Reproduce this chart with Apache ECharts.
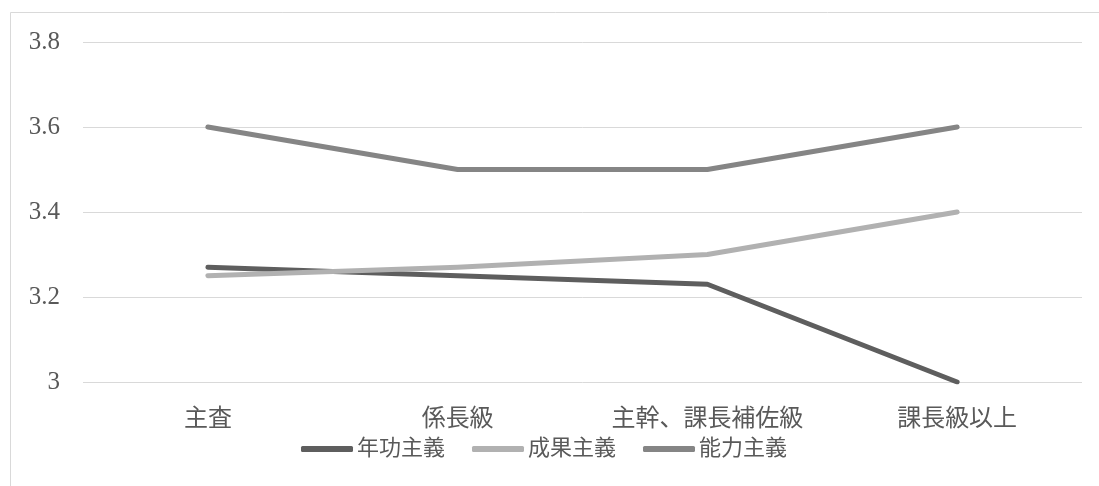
<!DOCTYPE html>
<html>
<head>
<meta charset="utf-8">
<script src="https://cdn.jsdelivr.net/npm/echarts@6/dist/echarts.min.js"></script>
<style>
html,body{margin:0;padding:0;background:#fff;}
#chart{width:1099px;height:486px;}
</style>
</head>
<body>
<div id="chart"></div>
<script>
const categories = ['主査', '係長級', '主幹、課長補佐級', '課長級以上'];
const seriesNames = ['年功主義', '成果主義', '能力主義'];
const nenkou = [3.27, 3.25, 3.23, 3.0];
const seika = [3.25, 3.27, 3.30, 3.40];
const nouryoku = [3.6, 3.5, 3.5, 3.6];
const yTicks = { min: 3, max: 3.8, interval: 0.2 };

const colors = ['#5e5e5e', '#b1b1b1', '#858585'];
const FONT = "'Liberation Serif', 'Noto Sans CJK JP', serif";
const TXT = '#595959';

const chart = echarts.init(document.getElementById('chart'), null, { renderer: 'canvas' });
const mk = (name, data, color) => ({
  name, type: 'line', data, symbol: 'none', smooth: false,
  lineStyle: { color, width: 5, cap: 'round', join: 'round' },
  itemStyle: { color },
  emphasis: { disabled: true }
});
chart.setOption({
  animation: false,
  backgroundColor: '#fff',
  graphic: [{
    type: 'rect', silent: true, z: -1,
    shape: { x: 10.5, y: 12.5, width: 1200, height: 600 },
    style: { fill: 'none', stroke: '#d9d9d9', lineWidth: 1 }
  }],
  grid: { left: 83, right: 17, top: 42, bottom: 104, containLabel: false },
  xAxis: {
    type: 'category', data: categories, boundaryGap: true,
    axisLine: { show: false }, axisTick: { show: false },
    axisLabel: { margin: 26, color: TXT, fontSize: 24, fontFamily: FONT }
  },
  yAxis: {
    type: 'value', min: yTicks.min, max: yTicks.max, interval: yTicks.interval,
    axisLine: { show: false }, axisTick: { show: false },
    axisLabel: { margin: 23, color: TXT, fontSize: 25, fontFamily: FONT },
    splitLine: { lineStyle: { color: '#d9d9d9', width: 1 } }
  },
  legend: {
    data: seriesNames.map((n, i) => ({ name: n, icon: 'roundRect', itemStyle: { color: colors[i] } })),
    left: 301, top: 438, padding: 0,
    itemWidth: 52, itemHeight: 6, itemGap: 27,
    textStyle: { color: TXT, fontSize: 22, fontFamily: FONT, padding: [0, 0, 0, -1] }
  },
  series: [
    mk(seriesNames[0], nenkou, colors[0]),
    mk(seriesNames[1], seika, colors[1]),
    mk(seriesNames[2], nouryoku, colors[2])
  ]
});
</script>
</body>
</html>
